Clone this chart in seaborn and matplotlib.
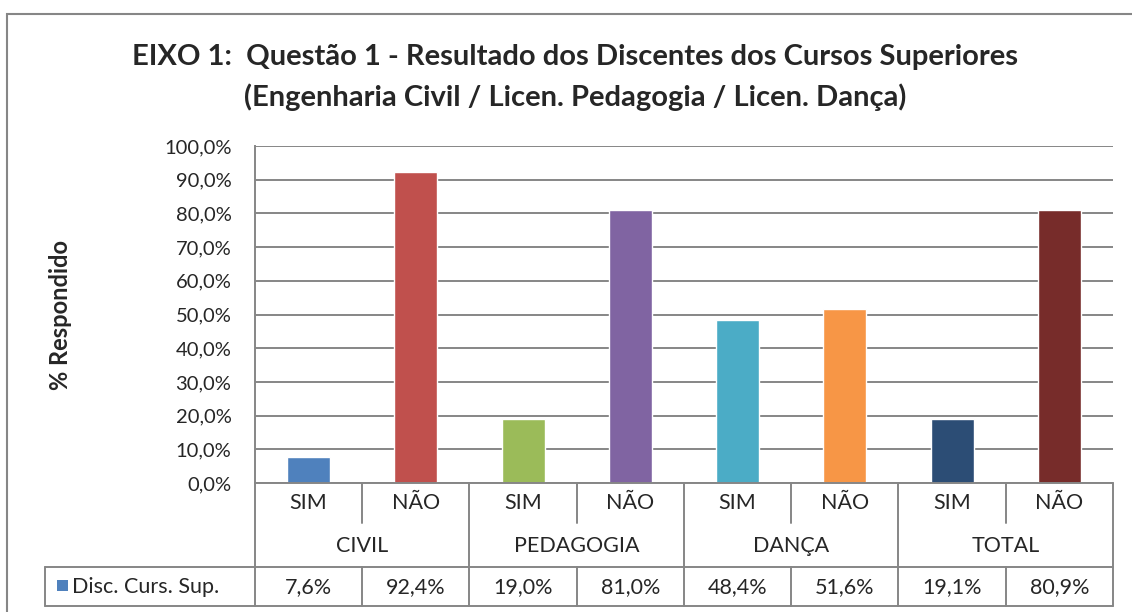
import matplotlib
matplotlib.use('Agg')
import matplotlib.pyplot as plt
import seaborn as sns
import pandas as pd
from matplotlib.patches import Rectangle

groups = ['CIVIL', 'PEDAGOGIA', 'DANÇA', 'TOTAL']
answers = ['SIM', 'NÃO']
values = [7.6, 92.4, 19.0, 81.0, 48.4, 51.6, 19.1, 80.9]
value_labels = ['7,6%', '92,4%', '19,0%', '81,0%', '48,4%', '51,6%', '19,1%', '80,9%']
colors = ['#4F81BD', '#C0504D', '#9BBB59', '#8064A2', '#4BACC6', '#F79646', '#2C4D75', '#772C2A']
series_name = 'Disc. Curs. Sup.'

keys = [g + ' ' + a for g in groups for a in answers]
df = pd.DataFrame({'key': keys, 'valor': values})

sns.set_style('white')
plt.rcParams['font.family'] = ['Lato', 'DejaVu Sans']

W, H = 1132, 612
fig = plt.figure(figsize=(W / 100, H / 100), dpi=100)
grid_c = '#868686'
txt_c = '#262626'
fs = 15.5

# plot area in pixels
L, R, T, B = 255, 1113, 146, 483
ax = fig.add_axes([L / W, 1 - B / H, (R - L) / W, (B - T) / H])

sns.barplot(data=df, x='key', y='valor', hue='key', palette=colors,
            legend=False, width=0.4, saturation=1, ax=ax)

ax.set_ylim(0, 100)
ax.set_xlim(-0.5, len(keys) - 0.5)
ax.set_yticks(range(0, 101, 10))
ax.set_yticklabels([f'{v},0%' for v in range(0, 101, 10)], fontsize=14.5, color=txt_c)
ax.tick_params(axis='y', length=0, pad=17)
ax.set_xticks([])
ax.set_xlabel('')
ax.set_ylabel('')
ax.grid(axis='y', color=grid_c, linewidth=1.4)
ax.set_axisbelow(True)
for s in ['top', 'right', 'bottom']:
    ax.spines[s].set_visible(False)
ax.spines['left'].set_color(grid_c)
ax.spines['left'].set_linewidth(1.4)

# axis title
fig.text(60 / W, 1 - 315 / H, '% Respondido', rotation=90, fontsize=17,
         fontweight='bold', ha='center', va='center')

# chart title
fig.text(575 / W, 1 - 57 / H, 'EIXO 1:  Questão 1 - Resultado dos Discentes dos Cursos Superiores',
         fontsize=21, fontweight='bold', ha='center', va='center')
fig.text(575 / W, 1 - 97 / H, '(Engenharia Civil / Licen. Pedagogia / Licen. Dança)',
         fontsize=21, fontweight='bold', ha='center', va='center')

# category / data table below the axis
ph = B - T
def ya(py):
    return (B - py) / ph

tr = ax.get_xaxis_transform()
r1, r2, r3 = 523, 567, 606
lkw = dict(color=grid_c, linewidth=1.4, transform=tr, clip_on=False)
ax.plot([-0.5, len(keys) - 0.5], [0, 0], **lkw)
ax.plot([-0.5, len(keys) - 0.5], [ya(r2), ya(r2)], **lkw)
ax.plot([-0.5, len(keys) - 0.5], [ya(r3), ya(r3)], **lkw)
for i in range(len(keys) + 1):
    x = i - 0.5
    if i % 2 == 0:
        ax.plot([x, x], [0, ya(r3)], **lkw)
    else:
        ax.plot([x, x], [0, ya(r1)], **lkw)
        ax.plot([x, x], [ya(r2), ya(r3)], **lkw)

tkw = dict(transform=tr, ha='center', va='center', fontsize=fs, color=txt_c, clip_on=False)
for i, k in enumerate(keys):
    ax.text(i, ya(503), answers[i % 2], **tkw)
    ax.text(i, ya(587), value_labels[i], **tkw)
for j, g in enumerate(groups):
    ax.text(2 * j + 0.5, ya(546), g, **tkw)

# legend cell of the data table
fig.add_artist(plt.Line2D([45 / W, L / W], [1 - r2 / H, 1 - r2 / H], color=grid_c, linewidth=1.4))
fig.add_artist(plt.Line2D([45 / W, L / W], [1 - r3 / H, 1 - r3 / H], color=grid_c, linewidth=1.4))
fig.add_artist(plt.Line2D([45 / W, 45 / W], [1 - r2 / H, 1 - r3 / H], color=grid_c, linewidth=1.4))
fig.add_artist(Rectangle((57 / W, 1 - 591 / H), 11 / W, 11 / H, facecolor=colors[0],
                         edgecolor='none', transform=fig.transFigure))
fig.text(72 / W, 1 - 587 / H, series_name, fontsize=fs, color=txt_c, va='center', ha='left')

# chart border
fig.add_artist(Rectangle((7 / W, -0.05), 1.2, 1 - 14 / H + 0.05, fill=False,
                         edgecolor=grid_c, linewidth=1.5, transform=fig.transFigure))

fig.savefig('out.png', dpi=100)
